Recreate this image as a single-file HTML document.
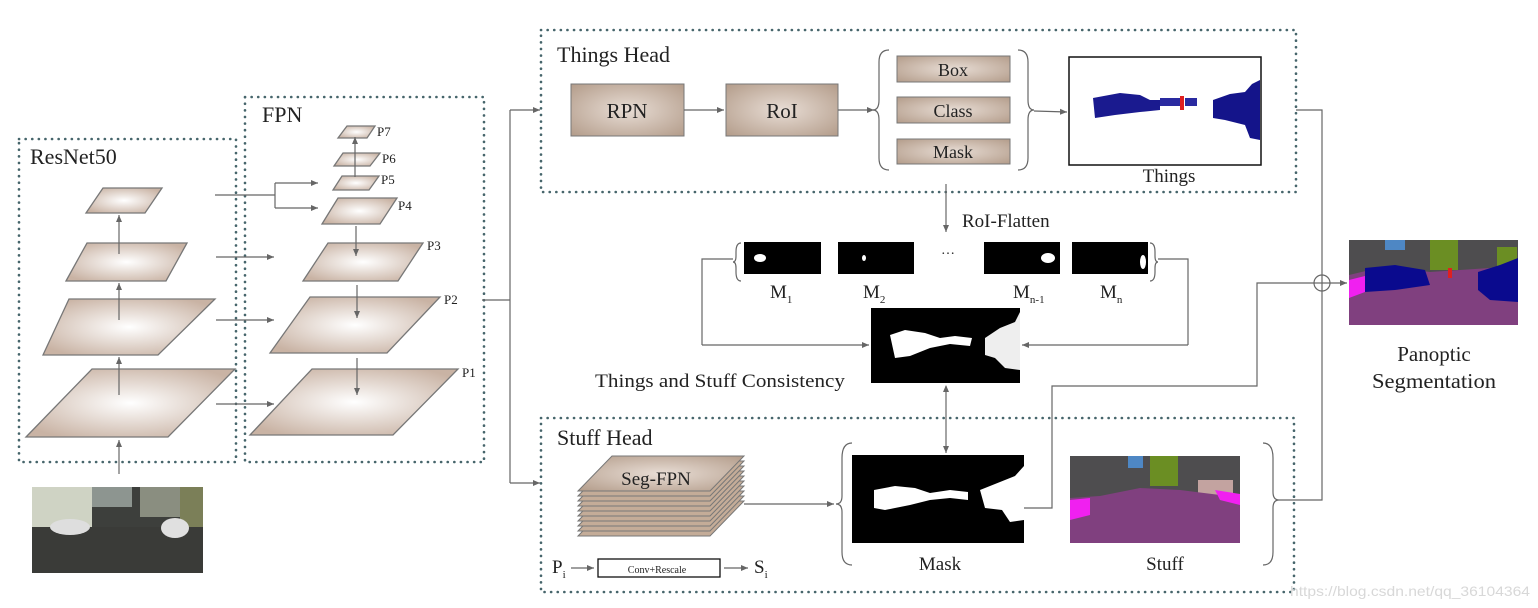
<!DOCTYPE html>
<html><head><meta charset="utf-8"><style>
html,body{margin:0;padding:0;background:#fff;}
svg{display:block;}
text{font-family:"Liberation Serif",serif;fill:#222;}
</style></head><body>
<svg width="1538" height="608" viewBox="0 0 1538 608" xmlns="http://www.w3.org/2000/svg">
<defs>
<radialGradient id="pl" cx="0.5" cy="0.5" r="0.6">
<stop offset="0" stop-color="#ffffff"/><stop offset="1" stop-color="#c9b3a4"/></radialGradient>
<radialGradient id="bx" cx="0.5" cy="0.5" r="0.7">
<stop offset="0" stop-color="#e8ddd5"/><stop offset="1" stop-color="#b39c8a"/></radialGradient>
<marker id="ar" markerWidth="8" markerHeight="8" refX="7" refY="4" orient="auto" markerUnits="userSpaceOnUse">
<path d="M0,1 L7,4 L0,7 z" fill="#666"/></marker>
<marker id="as" markerWidth="8" markerHeight="8" refX="1" refY="4" orient="auto" markerUnits="userSpaceOnUse">
<path d="M7,1 L0,4 L7,7 z" fill="#666"/></marker>
</defs>

<g fill="none" stroke="#46656b" stroke-width="2.6" stroke-dasharray="0.1 6.5" stroke-linecap="round">
<rect x="19" y="139" width="217" height="323"/>
<rect x="245" y="97" width="239" height="365"/>
<rect x="541" y="30" width="755" height="162"/>
<rect x="541" y="418" width="753" height="174"/>
</g>

<text x="30" y="164" font-size="22">ResNet50</text>
<text x="262" y="122" font-size="22">FPN</text>
<text x="557" y="62" font-size="22">Things Head</text>
<text x="557" y="445" font-size="22">Stuff Head</text>

<g fill="url(#pl)" stroke="#777" stroke-width="1.3">
<polygon points="86,213 103,188 162,188 145,213"/>
<polygon points="66,281 87,243 187,243 166,281"/>
<polygon points="43,355 69,299 215,299 158,355"/>
<polygon points="26,437 92,369 235,369 168,437"/>
<polygon points="338,138 347,126 375,126 367,138"/>
<polygon points="334,166 343,153 380,153 370,166"/>
<polygon points="333,190 342,176 379,176 369,190"/>
<polygon points="322,224 338,198 397,198 380,224"/>
<polygon points="303,281 328,243 423,243 398,281"/>
<polygon points="270,353 310,297 440,297 387,353"/>
<polygon points="250,435 312,369 458,369 393,435"/>
</g>
<g font-size="13" fill="#444">
<text x="377" y="136">P7</text><text x="382" y="163">P6</text><text x="381" y="184">P5</text>
<text x="398" y="210">P4</text><text x="427" y="250">P3</text><text x="444" y="304">P2</text><text x="462" y="377">P1</text>
</g>

<g stroke="#666" stroke-width="1.2" fill="none">
<line x1="119" y1="474" x2="119" y2="440" marker-end="url(#ar)"/>
<line x1="119" y1="395" x2="119" y2="357" marker-end="url(#ar)"/>
<line x1="119" y1="320" x2="119" y2="283" marker-end="url(#ar)"/>
<line x1="119" y1="254" x2="119" y2="215" marker-end="url(#ar)"/>
<path d="M215,195 H275 M275,183 V208"/>
<line x1="275" y1="183" x2="318" y2="183" marker-end="url(#ar)"/>
<line x1="275" y1="208" x2="318" y2="208" marker-end="url(#ar)"/>
<line x1="216" y1="257" x2="274" y2="257" marker-end="url(#ar)"/>
<line x1="216" y1="320" x2="274" y2="320" marker-end="url(#ar)"/>
<line x1="216" y1="404" x2="274" y2="404" marker-end="url(#ar)"/>
<line x1="355" y1="177" x2="355" y2="137" marker-end="url(#ar)"/>
<line x1="356" y1="226" x2="356" y2="256" marker-end="url(#ar)"/>
<line x1="357" y1="285" x2="357" y2="318" marker-end="url(#ar)"/>
<line x1="357" y1="358" x2="357" y2="395" marker-end="url(#ar)"/>
<path d="M482,300 H510 M510,110 V483"/>
<line x1="510" y1="110" x2="540" y2="110" marker-end="url(#ar)"/>
<line x1="510" y1="483" x2="540" y2="483" marker-end="url(#ar)"/>
</g>

<g>
<rect x="32" y="487" width="171" height="86" fill="#3d3f3c"/>
<rect x="32" y="487" width="60" height="40" fill="#cfd3c4"/>
<rect x="92" y="487" width="40" height="20" fill="#8d9590"/>
<rect x="140" y="487" width="40" height="30" fill="#8a8e80"/>
<rect x="180" y="487" width="23" height="40" fill="#7b7f58"/>
<rect x="32" y="527" width="171" height="46" fill="#3a3b38"/>
<ellipse cx="70" cy="527" rx="20" ry="8" fill="#dedede"/>
<ellipse cx="175" cy="528" rx="14" ry="10" fill="#e0e0e0"/>
</g>

<rect x="571" y="84" width="113" height="52" fill="url(#bx)" stroke="#777"/>
<text x="627" y="118" font-size="21" text-anchor="middle">RPN</text>
<rect x="726" y="84" width="112" height="52" fill="url(#bx)" stroke="#777"/>
<text x="782" y="118" font-size="21" text-anchor="middle">RoI</text>
<g stroke="#777" stroke-width="1">
<rect x="897" y="56" width="113" height="26" fill="url(#bx)"/>
<rect x="897" y="97" width="113" height="26" fill="url(#bx)"/>
<rect x="897" y="139" width="113" height="25" fill="url(#bx)"/>
</g>
<text x="953" y="76" font-size="18" text-anchor="middle">Box</text>
<text x="953" y="117" font-size="18" text-anchor="middle">Class</text>
<text x="953" y="158" font-size="18" text-anchor="middle">Mask</text>
<g stroke="#666" stroke-width="1.2" fill="none">
<line x1="684" y1="110" x2="724" y2="110" marker-end="url(#ar)"/>
<line x1="838" y1="110" x2="874" y2="110" marker-end="url(#ar)"/>
<path d="M889,50 Q879,50 879,62 V100 Q879,110 873,110 Q879,110 879,120 V158 Q879,170 889,170"/>
<path d="M1018,50 Q1028,50 1028,62 V100 Q1028,110 1034,110 Q1028,110 1028,120 V158 Q1028,170 1018,170"/>
<line x1="1034" y1="111" x2="1067" y2="112" marker-end="url(#ar)"/>
</g>
<rect x="1069" y="57" width="192" height="108" fill="#fff" stroke="#111" stroke-width="1.5"/>
<path d="M1093,98 L1120,93 L1140,95 L1150,100 L1160,100 L1160,110 L1140,112 L1115,115 L1095,118 Z" fill="#1a1a8f"/>
<rect x="1160" y="98" width="20" height="8" fill="#2a2aa0"/>
<rect x="1180" y="96" width="4" height="14" fill="#e02020"/>
<rect x="1185" y="98" width="12" height="8" fill="#2a2aa0"/>
<path d="M1213,100 L1230,94 L1245,92 L1252,84 L1260,80 L1260,140 L1250,138 L1245,125 L1225,120 L1213,118 Z" fill="#14148a"/>
<text x="1169" y="182" font-size="19" text-anchor="middle">Things</text>

<g stroke="#666" stroke-width="1.2" fill="none">
<line x1="946" y1="184" x2="946" y2="232" marker-end="url(#ar)"/>
<path d="M741,243 Q736,243 736,252 V256 Q736,262 733,262 Q736,262 736,268 V272 Q736,281 741,281"/>
<path d="M1150,243 Q1155,243 1155,252 V256 Q1155,262 1158,262 Q1155,262 1155,268 V272 Q1155,281 1150,281"/>
<path d="M733,259 H702 V345"/>
<line x1="702" y1="345" x2="869" y2="345" marker-end="url(#ar)"/>
<path d="M1158,259 H1188 V345"/>
<line x1="1188" y1="345" x2="1022" y2="345" marker-end="url(#ar)"/>
<line x1="946" y1="386" x2="946" y2="453" marker-start="url(#as)" marker-end="url(#ar)"/>
</g>
<text x="962" y="227" font-size="19">RoI-Flatten</text>
<rect x="744" y="242" width="77" height="32" fill="#000"/><ellipse cx="760" cy="258" rx="6" ry="4" fill="#fff"/>
<rect x="838" y="242" width="76" height="32" fill="#000"/><ellipse cx="864" cy="258" rx="2" ry="3" fill="#fff"/>
<text x="948" y="254" font-size="14" text-anchor="middle">…</text>
<rect x="984" y="242" width="76" height="32" fill="#000"/><ellipse cx="1048" cy="258" rx="7" ry="5" fill="#fff"/>
<rect x="1072" y="242" width="76" height="32" fill="#000"/><ellipse cx="1143" cy="262" rx="3" ry="7" fill="#fff"/>
<g font-size="19">
<text x="770" y="298">M<tspan font-size="11" dy="5">1</tspan></text>
<text x="863" y="298">M<tspan font-size="11" dy="5">2</tspan></text>
<text x="1013" y="298">M<tspan font-size="11" dy="5">n-1</tspan></text>
<text x="1100" y="298">M<tspan font-size="11" dy="5">n</tspan></text>
</g>
<rect x="871" y="308" width="149" height="75" fill="#000"/>
<path d="M890,335 L905,330 L925,333 L940,338 L955,336 L972,338 L970,346 L950,344 L930,348 L910,356 L895,358 Z" fill="#fff"/>
<path d="M985,338 L1000,328 L1015,322 L1020,312 L1020,370 L1005,368 L995,358 L985,355 Z" fill="#eee"/>
<text x="595" y="387" font-size="19" textLength="250" lengthAdjust="spacingAndGlyphs">Things and Stuff Consistency</text>

<g stroke="#777" fill="#c4ac98"><polygon points="578,536 612,501 744,501 710,536"/><polygon points="578,531 612,496 744,496 710,531"/><polygon points="578,526 612,491 744,491 710,526"/><polygon points="578,521 612,486 744,486 710,521"/><polygon points="578,516 612,481 744,481 710,516"/><polygon points="578,511 612,476 744,476 710,511"/><polygon points="578,506 612,471 744,471 710,506"/><polygon points="578,501 612,466 744,466 710,501"/><polygon points="578,496 612,461 744,461 710,496"/><polygon points="578,491 612,456 744,456 710,491" fill="url(#bx)"/></g>
<text x="656" y="485" font-size="19" text-anchor="middle">Seg-FPN</text>
<text x="552" y="573" font-size="19">P<tspan font-size="11" dy="5">i</tspan></text>
<line x1="571" y1="568" x2="594" y2="568" stroke="#666" stroke-width="1.2" marker-end="url(#ar)"/>
<rect x="598" y="559" width="122" height="18" fill="#fff" stroke="#111" stroke-width="1.3"/>
<text x="657" y="573" font-size="10" text-anchor="middle">Conv+Rescale</text>
<line x1="724" y1="568" x2="748" y2="568" stroke="#666" stroke-width="1.2" marker-end="url(#ar)"/>
<text x="754" y="573" font-size="19">S<tspan font-size="11" dy="5">i</tspan></text>

<g stroke="#666" stroke-width="1.2" fill="none">
<line x1="744" y1="504" x2="834" y2="504" marker-end="url(#ar)"/>
<path d="M852,443 Q842,443 842,458 V496 Q842,504 836,504 Q842,504 842,512 V552 Q842,565 852,565"/>
<path d="M1263,443 Q1273,443 1273,458 V492 Q1273,500 1279,500 Q1273,500 1273,508 V552 Q1273,565 1263,565"/>
<path d="M1024,508 H1052 V386 H1257 V283 H1314"/>
<path d="M1279,500 H1322 V110 H1296"/>
<line x1="1330" y1="283" x2="1347" y2="283" marker-end="url(#ar)"/>
<circle cx="1322" cy="283" r="8"/>
<line x1="1314" y1="283" x2="1330" y2="283"/>
</g>
<rect x="852" y="455" width="172" height="88" fill="#000"/>
<path d="M874,490 L895,486 L915,488 L930,493 L950,490 L968,492 L968,500 L950,498 L930,500 L910,505 L885,510 L874,508 Z" fill="#fff"/>
<path d="M980,490 L1000,482 L1015,476 L1024,466 L1024,520 L1010,522 L1002,510 L985,508 Z" fill="#fff"/>
<rect x="1070" y="456" width="170" height="87" fill="#4e4d4f"/>
<rect x="1128" y="456" width="15" height="12" fill="#4e87c4"/>
<rect x="1150" y="456" width="28" height="30" fill="#6b8e23"/>
<rect x="1198" y="480" width="35" height="20" fill="#c3a3a0"/>
<path d="M1070,498 L1100,496 L1140,488 L1180,490 L1220,495 L1240,498 L1240,543 L1070,543 Z" fill="#80407f"/>
<path d="M1070,500 L1090,498 L1090,515 L1070,520 Z" fill="#f020f0"/>
<path d="M1215,490 L1240,494 L1240,505 L1220,500 Z" fill="#f020f0"/>
<text x="940" y="570" font-size="19" text-anchor="middle">Mask</text>
<text x="1165" y="570" font-size="19" text-anchor="middle">Stuff</text>

<rect x="1349" y="240" width="169" height="85" fill="#4e4d4f"/>
<rect x="1385" y="240" width="20" height="10" fill="#4e87c4"/>
<rect x="1430" y="240" width="28" height="30" fill="#6b8e23"/>
<rect x="1497" y="247" width="20" height="25" fill="#6b8e23"/>
<path d="M1349,275 L1370,270 L1400,268 L1430,272 L1460,270 L1490,268 L1518,262 L1518,325 L1349,325 Z" fill="#80407f"/>
<path d="M1365,268 L1395,265 L1425,270 L1430,285 L1395,290 L1365,292 Z" fill="#0a0a8e"/>
<path d="M1478,272 L1500,265 L1518,258 L1518,302 L1490,300 L1478,290 Z" fill="#0a0a8e"/>
<path d="M1349,280 L1365,276 L1365,292 L1349,298 Z" fill="#f020f0"/>
<rect x="1448" y="268" width="4" height="10" fill="#e02020"/>
<text x="1434" y="361" font-size="21" text-anchor="middle">Panoptic</text>
<text x="1434" y="388" font-size="21" text-anchor="middle" textLength="124" lengthAdjust="spacingAndGlyphs">Segmentation</text>

<text x="1290" y="596" font-size="14" style="font-family:'Liberation Sans',sans-serif;fill:#d8d8d8" textLength="240" lengthAdjust="spacingAndGlyphs">https://blog.csdn.net/qq_36104364</text>
</svg>
</body></html>
